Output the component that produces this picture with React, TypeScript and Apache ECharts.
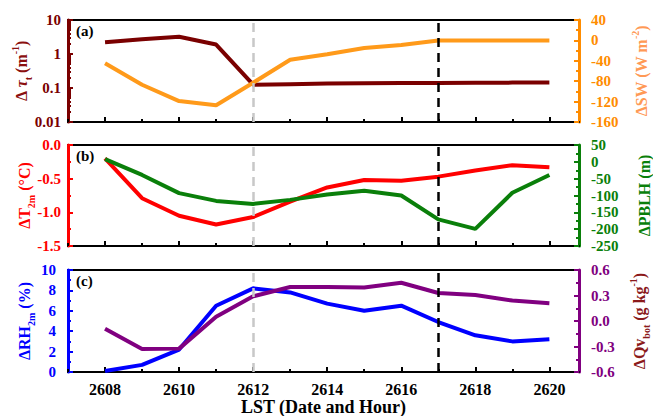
import React, { useEffect, useRef } from "react";
import * as echarts from "echarts";

const hours = [2608, 2609, 2610, 2611, 2612, 2613, 2614, 2615, 2616, 2617, 2618, 2619, 2620];
const majorHours = [2608, 2610, 2612, 2614, 2616, 2618, 2620];
const minorHours = [2607, 2609, 2611, 2613, 2615, 2617, 2619];
const tauT = [2.2, 2.7, 3.2, 1.9, 0.125, 0.13, 0.135, 0.138, 0.14, 0.14, 0.142, 0.144, 0.145];
const dSW = [-45, -87, -119, -127, -83, -38, -27, -15, -9, 0, 0, 0, 0];
const dT2m = [-0.2, -0.79, -1.05, -1.18, -1.07, -0.84, -0.63, -0.52, -0.53, -0.47, -0.38, -0.3, -0.33];
const dPBLH = [8, -39, -93, -116, -125, -113, -97, -86, -100, -171, -199, -92, -39];
const dRH2m = [0.1, 0.7, 2.2, 6.5, 8.2, 7.8, 6.7, 6.0, 6.5, 4.9, 3.6, 3.0, 3.2];
const dQv = [-0.09, -0.33, -0.325, 0.05, 0.29, 0.4, 0.4, 0.395, 0.45, 0.33, 0.305, 0.24, 0.21];
const logMinorTicks = [0.02, 0.03, 0.04, 0.05, 0.06, 0.07, 0.08, 0.09, 0.2, 0.3, 0.4, 0.5, 0.6, 0.7, 0.8, 0.9, 2, 3, 4, 5, 6, 7, 8, 9];
const grayLineHour = 2612;
const blackLineHour = 2617;
const panelLabels = ["(a)", "(b)", "(c)"];

const FONT = "Liberation Serif";

const C = {
  tau: "#7a0000",
  tauName: "#8b1010",
  sw: "#ff9a1a",
  swAxis: "#ff8c00",
  swName: "#ff9955",
  t: "#ff0000",
  pblh: "#0a7f0a",
  rh: "#0000ff",
  qv: "#800080",
  qvName: "#8b1a1a",
};

const pairs = (vals: number[]) => hours.map((h, i) => [h, vals[i]]);

const grids = [
  { left: 68, top: 20, width: 511, height: 102 },
  { left: 68, top: 145, width: 511, height: 101 },
  { left: 68, top: 270, width: 511, height: 102 },
];

function richName(color: string) {
  return {
    color,
    fontFamily: FONT,
    fontWeight: "bold",
    fontSize: 16,
    rich: {
      n: { color, fontFamily: FONT, fontWeight: "bold", fontSize: 16, lineHeight: 18 },
      i: { color, fontFamily: FONT, fontWeight: "bold", fontStyle: "italic", fontSize: 16, lineHeight: 18 },
      sub: { color, fontFamily: FONT, fontWeight: "bold", fontSize: 10, verticalAlign: "bottom", lineHeight: 18, padding: [0, 0, -3, 0] },
      sup: { color, fontFamily: FONT, fontWeight: "bold", fontSize: 10, verticalAlign: "top", lineHeight: 18, padding: [-2, 0, 0, 0] },
    },
  };
}

function labelStyle(color: string, margin: number) {
  return {
    color,
    fontFamily: FONT,
    fontWeight: "bold",
    fontSize: 15,
    margin,
  };
}

function yAxisBase(gridIndex: number, position: "left" | "right", color: string, margin: number) {
  return {
    gridIndex,
    position,
    axisLine: { show: true, onZero: false, lineStyle: { color, width: 3 } },
    axisTick: { show: true, inside: true, length: 5, lineStyle: { color, width: 2 } },
    minorTick: { show: true, splitNumber: 2, length: 3, lineStyle: { color, width: 2 } },
    splitLine: { show: false },
    minorSplitLine: { show: false },
    axisLabel: labelStyle(color, margin),
    nameLocation: "middle",
    nameRotate: 90,
    nameMoveOverlap: false,
  };
}

export default function App() {
  const ref = useRef<HTMLDivElement>(null);
  useEffect(() => {
    if (!ref.current) return;
    const chart = echarts.init(ref.current, null, { renderer: "svg" });

    const xAxes: any[] = [];
    grids.forEach((_, gi) => {
      xAxes.push({
        type: "value",
        gridIndex: gi,
        position: "bottom",
        min: 2607,
        max: 2620.8,
        axisLine: { show: true, onZero: false, lineStyle: { color: "#000", width: 2 } },
        axisTick: { show: true, inside: true, length: 5, customValues: majorHours, lineStyle: { color: "#000", width: 2 } },
        splitLine: { show: false },
        axisLabel: {
          show: gi === 2,
          customValues: majorHours,
          formatter: (v: number) => String(v),
          color: "#000",
          fontFamily: FONT,
          fontWeight: "bold",
          fontSize: 16,
          margin: 9,
        },
        name: gi === 2 ? "LST (Date and Hour)" : "",
        nameLocation: "middle",
        nameGap: 26,
        nameMoveOverlap: false,
        nameTextStyle: { color: "#000", fontFamily: FONT, fontWeight: "bold", fontSize: 18 },
      });
    });
    grids.forEach((_, gi) => {
      xAxes.push({
        type: "value",
        gridIndex: gi,
        position: "bottom",
        min: 2607,
        max: 2620.8,
        axisLine: { show: false, onZero: false },
        axisTick: { show: true, inside: true, length: 3, customValues: minorHours, lineStyle: { color: "#000", width: 2 } },
        splitLine: { show: false },
        axisLabel: { show: false },
      });
    });

    const yAxes: any[] = [
      {
        ...yAxisBase(0, "left", C.tau, 7),
        type: "log",
        logBase: 10,
        min: 0.01,
        max: 10,
        minorTick: { show: false },
        name: "{n|Δ }{i|τ}{sub|t}{n| (m}{sup|-1}{n|)}",
        nameGap: 38,
        nameTextStyle: richName(C.tauName),
        axisLabel: { ...labelStyle(C.tau, 7), formatter: (v: number) => String(v) },
      },
      {
        ...yAxisBase(0, "right", C.swAxis, 12),
        type: "value",
        min: -160,
        max: 40,
        interval: 40,
        name: "{n|ΔSW (W m}{sup|-2}{n|)}",
        nameGap: 53,
        nameTextStyle: richName(C.swName),
      },
      {
        ...yAxisBase(1, "left", C.t, 7),
        type: "value",
        min: -1.5,
        max: 0,
        interval: 0.5,
        name: "{n|ΔT}{sub|2m}{n| (°C)}",
        nameGap: 35,
        nameTextStyle: richName(C.t),
        axisLabel: { ...labelStyle(C.t, 7), formatter: (v: number) => v.toFixed(1) },
      },
      {
        ...yAxisBase(1, "right", C.pblh, 12),
        type: "value",
        min: -250,
        max: 50,
        interval: 50,
        name: "{n|ΔPBLH (m)}",
        nameGap: 56,
        nameTextStyle: richName(C.pblh),
      },
      {
        ...yAxisBase(2, "left", C.rh, 12),
        type: "value",
        min: 0,
        max: 10,
        interval: 2,
        name: "{n|ΔRH}{sub|2m}{n| (%)}",
        nameGap: 35,
        nameTextStyle: richName(C.rh),
      },
      {
        ...yAxisBase(2, "right", C.qv, 12),
        type: "value",
        min: -0.6,
        max: 0.6,
        interval: 0.3,
        name: "{n|ΔQv}{sub|bot}{n| (g kg}{sup|-1}{n|)}",
        nameGap: 51,
        nameTextStyle: richName(C.qvName),
        axisLabel: { ...labelStyle(C.qv, 12), formatter: (v: number) => v.toFixed(1) },
      },
      {
        gridIndex: 0,
        type: "log",
        logBase: 10,
        position: "left",
        min: 0.01,
        max: 10,
        axisLine: { show: false, onZero: false },
        axisTick: { show: true, inside: true, length: 3, customValues: logMinorTicks, lineStyle: { color: C.tau, width: 2 } },
        axisLabel: { show: false },
        splitLine: { show: false },
      },
    ];

    const vLines = () => ({
      silent: true,
      symbol: "none",
      label: { show: false },
      data: [
        { xAxis: grayLineHour, lineStyle: { color: "#c8c8c8", width: 2.5, type: [9, 6] } },
        { xAxis: blackLineHour, lineStyle: { color: "#000", width: 2.5, type: [9, 6] } },
      ],
    });

    const line = (name: string, xi: number, yi: number, vals: number[], color: string, withMarks?: boolean) => ({
      name,
      type: "line",
      xAxisIndex: xi,
      yAxisIndex: yi,
      data: pairs(vals),
      showSymbol: false,
      symbol: "none",
      lineStyle: { color, width: 4 },
      itemStyle: { color },
      z: 3,
      ...(withMarks ? { markLine: vLines() } : {}),
    });

    chart.setOption({
      animation: false,
      backgroundColor: "#fff",
      grid: grids.map((g) => ({
        ...g,
        show: true,
        borderColor: "#000",
        borderWidth: 2,
        backgroundColor: "transparent",
        containLabel: false,
        outerBoundsMode: "none",
      })),
      xAxis: xAxes,
      yAxis: yAxes,
      graphic: panelLabels.map((t, i) => ({
        type: "text",
        left: 76,
        top: grids[i].top + 3,
        style: { text: t, fill: "#000", font: `bold 15px "Liberation Serif"` },
      })),
      series: [
        line("tau", 0, 0, tauT, C.tau, true),
        line("sw", 0, 1, dSW, C.sw),
        line("t2m", 1, 2, dT2m, C.t, true),
        line("pblh", 1, 3, dPBLH, C.pblh),
        line("rh", 2, 4, dRH2m, C.rh, true),
        line("qv", 2, 5, dQv, C.qv),
      ],
    });
    return () => chart.dispose();
  }, []);
  return <div ref={ref} style={{ width: 653, height: 416, position: "absolute", left: 0, top: 0 }} />;
}
